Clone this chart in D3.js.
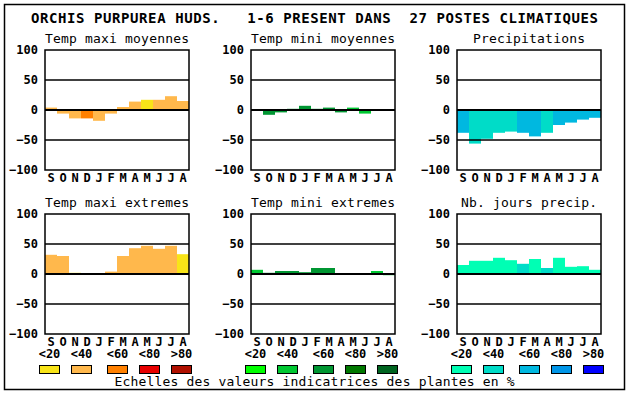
<!DOCTYPE html>
<html>
<head>
<meta charset="utf-8">
<script src="https://cdn.jsdelivr.net/npm/d3@7"></script>
<style>
  body { margin: 0; background: #fff; }
  svg { display: block; }
  text { font-family: "DejaVu Sans Mono", monospace; }
</style>
</head>
<body>
<div id="graph"></div>
<script>
// month initials, september -> august
const months = ["S", "O", "N", "D", "J", "F", "M", "A", "M", "J", "J", "A"];
const yTicks = [-100, -50, 0, 50, 100];
const classLabels = ["<20", "<40", "<60", "<80", ">80"];

const warmColors = ["#f8e418", "#ffb84c", "#ff8000", "#e80000", "#b01000"];
const greenColors = ["#00ff00", "#00c832", "#009632", "#007800", "#006420"];
const blueColors = ["#00ffb4", "#00dcc8", "#00b8e0", "#0096e8", "#0000ff"];

// values per month and colour class (index in the palette)
const tmaxMoy = [4, -6, -14, -14, -18, -6, 5, 14, 17, 17, 23, 15];
const tmaxMoyClass = [1, 1, 1, 2, 1, 1, 1, 1, 0, 1, 1, 1];
const tminMoy = [-1, -8, -4, 2, 7, 2, 4, -4, 4, -6, -1, -1];
const tminMoyClass = [1, 2, 2, 2, 2, 2, 2, 2, 1, 1, 1, 1];
const precip = [-38, -56, -48, -38, -36, -38, -44, -38, -25, -21, -16, -13];
const precipClass = [2, 1, 1, 1, 1, 2, 2, 1, 2, 2, 2, 2];
const tmaxExt = [32, 30, 2, 0, 0, 4, 30, 43, 47, 42, 47, 33];
const tmaxExtClass = [1, 1, 0, 1, 1, 1, 1, 1, 1, 1, 1, 0];
const tminExt = [7, 2, 5, 5, 3, 10, 10, 0, 1, 1, 5, -2];
const tminExtClass = [1, 2, 2, 2, 2, 2, 2, 2, 1, 1, 1, 1];
const nbJours = [15, 22, 22, 27, 23, 17, 25, 10, 27, 12, 13, 7];
const nbJoursClass = [0, 0, 0, 0, 0, 1, 0, 1, 0, 0, 0, 0];

const titleText = "ORCHIS PURPUREA HUDS.   1-6 PRESENT DANS  27 POSTES CLIMATIQUES";
const footText = "Echelles des valeurs indicatrices des plantes en %";

const panels = [
    { title: "Temp maxi moyennes", values: tmaxMoy, cls: tmaxMoyClass, colors: warmColors, col: 0, row: 0 },
    { title: "Temp mini moyennes", values: tminMoy, cls: tminMoyClass, colors: greenColors, col: 1, row: 0 },
    { title: "Precipitations", values: precip, cls: precipClass, colors: blueColors, col: 2, row: 0 },
    { title: "Temp maxi extremes", values: tmaxExt, cls: tmaxExtClass, colors: warmColors, col: 0, row: 1 },
    { title: "Temp mini extremes", values: tminExt, cls: tminExtClass, colors: greenColors, col: 1, row: 1 },
    { title: "Nb. jours precip.", values: nbJours, cls: nbJoursClass, colors: blueColors, col: 2, row: 1 }
];

const width = 630;
const height = 394;
const plotLefts = [45, 251, 457];
const plotTops = [50, 214];
const plotWidth = 144;
const plotHeight = 120;

const svg = d3.select('#graph')
    .append('svg')
    .attr('width', width)
    .attr('height', height);

svg.append('rect')
    .attr('x', 4.5)
    .attr('y', 4.5)
    .attr('width', 620)
    .attr('height', 385)
    .attr('fill', 'none')
    .attr('stroke', '#000')
    .attr('stroke-width', 1.5);

svg.append('text')
    .attr('x', 31)
    .attr('y', 23)
    .attr('textLength', 567)
    .attr('lengthAdjust', 'spacing')
    .style('font-size', '14px')
    .style('font-weight', 'bold')
    .style('white-space', 'pre')
    .text(titleText);

panels.forEach(p => {
    const left = plotLefts[p.col];
    const top = plotTops[p.row];
    const g = svg.append('g');

    const xScale = d3.scaleBand()
        .domain(d3.range(months.length))
        .range([left, left + plotWidth]);

    const yScale = d3.scaleLinear()
        .domain([-100, 100])
        .range([top + plotHeight, top]);

    g.append('text')
        .attr('x', left + plotWidth / 2)
        .attr('y', top - 7)
        .attr('text-anchor', 'middle')
        .attr('textLength', p.title.length * 8)
        .attr('lengthAdjust', 'spacing')
        .style('font-size', '13px')
        .style('white-space', 'pre')
        .text(p.title);

    // bars
    g.selectAll('rect.bar')
        .data(p.values)
        .enter()
        .append('rect')
        .attr('class', 'bar')
        .attr('x', (d, i) => xScale(i))
        .attr('width', xScale.bandwidth())
        .attr('y', d => yScale(Math.max(0, d)))
        .attr('height', d => Math.abs(yScale(d) - yScale(0)))
        .attr('fill', (d, i) => p.colors[p.cls[i]]);

    // grid lines at -50, 0, 50
    g.selectAll('line.grid')
        .data(yTicks.filter(t => Math.abs(t) < 100))
        .enter()
        .append('line')
        .attr('x1', left)
        .attr('x2', left + plotWidth)
        .attr('y1', d => yScale(d))
        .attr('y2', d => yScale(d))
        .attr('stroke', '#000')
        .attr('stroke-width', d => d === 0 ? 2 : 1.5);

    g.append('rect')
        .attr('x', left)
        .attr('y', top)
        .attr('width', plotWidth)
        .attr('height', plotHeight)
        .attr('fill', 'none')
        .attr('stroke', '#000')
        .attr('stroke-width', 1.5);

    const yAxis = d3.axisLeft(yScale)
        .tickValues(yTicks)
        .tickSize(0)
        .tickPadding(7);

    g.append('g')
        .attr('transform', 'translate(' + left + ', 0)')
        .call(yAxis)
        .call(a => a.select('.domain').remove())
        .selectAll('text')
        .style('font-family', '"DejaVu Sans Mono", monospace')
        .style('font-size', '12px')
        .style('font-weight', 'bold')
        .attr('fill', '#000');

    const xAxis = d3.axisBottom(xScale)
        .tickFormat(i => months[i])
        .tickSize(0)
        .tickPadding(3);

    g.append('g')
        .attr('transform', 'translate(0, ' + (top + plotHeight) + ')')
        .call(xAxis)
        .call(a => a.select('.domain').remove())
        .selectAll('text')
        .style('font-family', '"DejaVu Sans Mono", monospace')
        .style('font-size', '12px')
        .style('font-weight', 'bold')
        .attr('fill', '#000');

    // legend below bottom row
    if (p.row === 1) {
        const boxOffsets = [-6, 26, 62, 94, 126];
        const legend = g.append('g');
        legend.selectAll('rect')
            .data(p.colors)
            .enter()
            .append('rect')
            .attr('x', (d, i) => left + boxOffsets[i] + 0.5)
            .attr('y', 365.5)
            .attr('width', 20)
            .attr('height', 8)
            .attr('fill', d => d)
            .attr('stroke', '#000')
            .attr('stroke-width', 1);
        legend.selectAll('text')
            .data(classLabels)
            .enter()
            .append('text')
            .attr('x', (d, i) => left + boxOffsets[i] + 10.5)
            .attr('y', 358)
            .attr('text-anchor', 'middle')
            .style('font-size', '12px')
            .style('font-weight', 'bold')
            .text(d => d);
    }
});

svg.append('text')
    .attr('x', 314.5)
    .attr('y', 386)
    .attr('text-anchor', 'middle')
    .attr('textLength', footText.length * 8)
    .attr('lengthAdjust', 'spacing')
    .style('font-size', '13px')
    .text(footText);
</script>
</body>
</html>
